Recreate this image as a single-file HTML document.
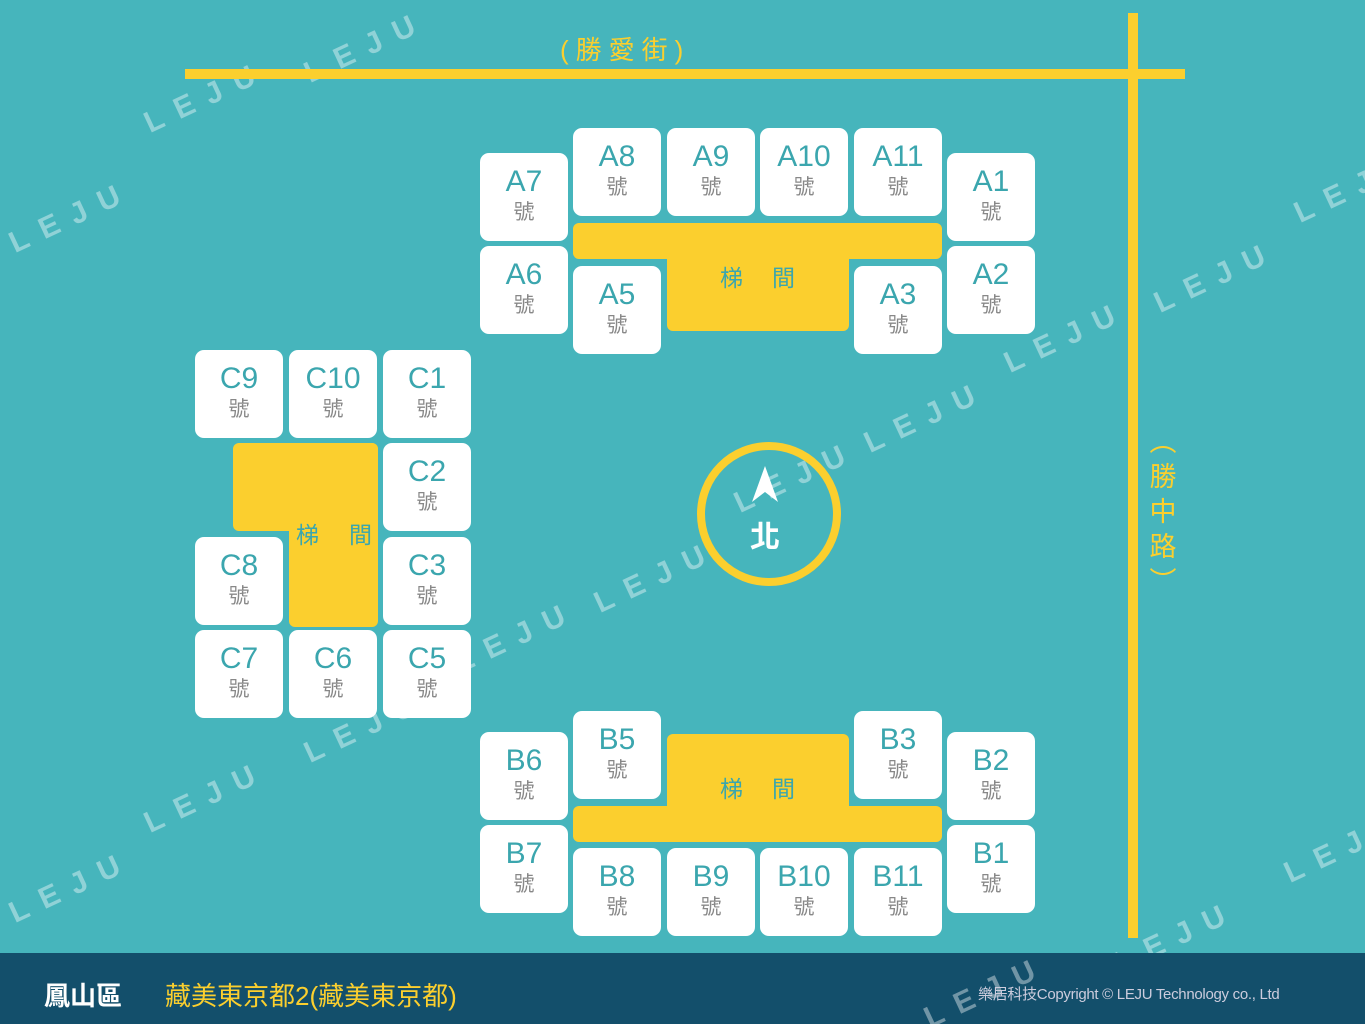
<!DOCTYPE html><html><head><meta charset="utf-8"><style>
html,body{margin:0;width:1365px;height:1024px;overflow:hidden}
body{background:#46b5bc;position:relative;font-family:"Liberation Sans","Noto Sans CJK TC",sans-serif}
.b{position:absolute;width:88px;height:88px;background:#fff;border-radius:9px;text-align:center;color:#3ba6ae}
.b .n{font-size:30px;margin-top:13px;line-height:32px}
.b .h{font-size:21px;color:#888;line-height:30px}
.y{position:absolute;background:#fbcf2e;border-radius:6px}
.t{position:absolute;color:#3ba6ae;font-size:23px;line-height:24px}
.w{position:absolute;color:rgba(255,255,255,.4);font-size:30px;letter-spacing:14px;transform:rotate(-25deg);font-weight:bold;white-space:nowrap}
</style></head><body>
<div class="w" style="left:140px;top:80px">LEJU</div><div class="w" style="left:300px;top:30px">LEJU</div>
<div class="w" style="left:5px;top:200px">LEJU</div><div class="w" style="left:1290px;top:170px">LEJU</div>
<div class="w" style="left:1150px;top:260px">LEJU</div><div class="w" style="left:1000px;top:320px">LEJU</div>
<div class="w" style="left:860px;top:400px">LEJU</div><div class="w" style="left:730px;top:460px">LEJU</div>
<div class="w" style="left:590px;top:560px">LEJU</div><div class="w" style="left:450px;top:620px">LEJU</div>
<div class="w" style="left:300px;top:710px">LEJU</div><div class="w" style="left:140px;top:780px">LEJU</div>
<div class="w" style="left:5px;top:870px">LEJU</div><div class="w" style="left:1280px;top:830px">LEJU</div>
<div class="w" style="left:1110px;top:920px">LEJU</div>
<div style="position:absolute;left:185px;top:69px;width:1000px;height:10px;background:#fbcf2e"></div>
<div style="position:absolute;left:1128px;top:13px;width:10px;height:925px;background:#fbcf2e"></div>
<div style="position:absolute;left:560px;top:30px;color:#fbcf2e;font-size:26px;letter-spacing:7px">(勝愛街)</div>
<div style="position:absolute;left:1148px;top:425px;color:#fbcf2e;font-size:27px;width:30px;text-align:center;line-height:35px">︵<br>勝<br>中<br>路<br>︶</div>
<div style="position:absolute;left:697px;top:442px;width:128px;height:128px;border:8px solid #fbcf2e;border-radius:50%"></div>
<svg style="position:absolute;left:750px;top:466px" width="30" height="40"><polygon points="15,0 28,36 15,26 2,36" fill="#fff"/></svg>
<div style="position:absolute;left:750px;top:512px;color:#fff;font-size:30px;font-weight:bold">北</div>
<div style="position:absolute;left:0;top:953px;width:1365px;height:71px;background:#134f6b"></div>
<div class="w" style="left:920px;top:975px">LEJU</div>
<!-- A -->
<div class="y" style="left:573px;top:223px;width:369px;height:36px"></div>
<div class="y" style="left:667px;top:223px;width:182px;height:108px"></div>
<div class="t" style="left:720px;top:266px">梯</div><div class="t" style="left:772px;top:266px">間</div>
<div class="b" style="left:480px;top:153px"><div class="n">A7</div><div class="h">號</div></div>
<div class="b" style="left:480px;top:246px"><div class="n">A6</div><div class="h">號</div></div>
<div class="b" style="left:573px;top:128px"><div class="n">A8</div><div class="h">號</div></div>
<div class="b" style="left:667px;top:128px"><div class="n">A9</div><div class="h">號</div></div>
<div class="b" style="left:760px;top:128px"><div class="n">A10</div><div class="h">號</div></div>
<div class="b" style="left:854px;top:128px"><div class="n">A11</div><div class="h">號</div></div>
<div class="b" style="left:947px;top:153px"><div class="n">A1</div><div class="h">號</div></div>
<div class="b" style="left:947px;top:246px"><div class="n">A2</div><div class="h">號</div></div>
<div class="b" style="left:573px;top:266px"><div class="n">A5</div><div class="h">號</div></div>
<div class="b" style="left:854px;top:266px"><div class="n">A3</div><div class="h">號</div></div>
<!-- C -->
<div class="y" style="left:233px;top:443px;width:145px;height:88px"></div>
<div class="y" style="left:289px;top:443px;width:89px;height:184px"></div>
<div class="t" style="left:296px;top:523px">梯</div><div class="t" style="left:349px;top:523px">間</div>
<div class="b" style="left:195px;top:350px"><div class="n">C9</div><div class="h">號</div></div>
<div class="b" style="left:289px;top:350px"><div class="n">C10</div><div class="h">號</div></div>
<div class="b" style="left:383px;top:350px"><div class="n">C1</div><div class="h">號</div></div>
<div class="b" style="left:383px;top:443px"><div class="n">C2</div><div class="h">號</div></div>
<div class="b" style="left:195px;top:537px"><div class="n">C8</div><div class="h">號</div></div>
<div class="b" style="left:383px;top:537px"><div class="n">C3</div><div class="h">號</div></div>
<div class="b" style="left:195px;top:630px"><div class="n">C7</div><div class="h">號</div></div>
<div class="b" style="left:289px;top:630px"><div class="n">C6</div><div class="h">號</div></div>
<div class="b" style="left:383px;top:630px"><div class="n">C5</div><div class="h">號</div></div>
<!-- B -->
<div class="y" style="left:667px;top:734px;width:182px;height:100px"></div>
<div class="y" style="left:573px;top:806px;width:369px;height:36px"></div>
<div class="t" style="left:720px;top:777px">梯</div><div class="t" style="left:772px;top:777px">間</div>
<div class="b" style="left:480px;top:732px"><div class="n">B6</div><div class="h">號</div></div>
<div class="b" style="left:480px;top:825px"><div class="n">B7</div><div class="h">號</div></div>
<div class="b" style="left:573px;top:711px"><div class="n">B5</div><div class="h">號</div></div>
<div class="b" style="left:854px;top:711px"><div class="n">B3</div><div class="h">號</div></div>
<div class="b" style="left:947px;top:732px"><div class="n">B2</div><div class="h">號</div></div>
<div class="b" style="left:947px;top:825px"><div class="n">B1</div><div class="h">號</div></div>
<div class="b" style="left:573px;top:848px"><div class="n">B8</div><div class="h">號</div></div>
<div class="b" style="left:667px;top:848px"><div class="n">B9</div><div class="h">號</div></div>
<div class="b" style="left:760px;top:848px"><div class="n">B10</div><div class="h">號</div></div>
<div class="b" style="left:854px;top:848px"><div class="n">B11</div><div class="h">號</div></div>
<div style="position:absolute;left:44px;top:976px;color:#fff;font-size:26px;font-weight:bold">鳳山區</div>
<div style="position:absolute;left:165px;top:976px;color:#fbcf2e;font-size:26px">藏美東京都2(藏美東京都)</div>
<div style="position:absolute;left:978px;top:983px;color:#ccd;font-size:15px;letter-spacing:-0.3px">樂居科技Copyright © LEJU Technology co., Ltd</div>
</body></html>
